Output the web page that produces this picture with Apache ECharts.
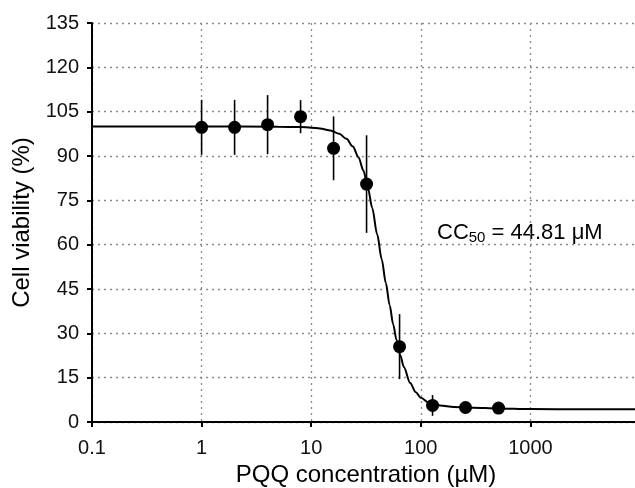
<!DOCTYPE html>
<html>
<head>
<meta charset="utf-8">
<script src="https://cdn.jsdelivr.net/npm/echarts@6/dist/echarts.min.js"></script>
<style>html,body{margin:0;padding:0;background:#fff}#c{width:635px;height:488px}</style>
</head>
<body>
<div id="c"></div>
<script>
// Measured data (mean ± error)
const concentrations = [1, 2, 4, 8, 16, 32, 64, 128, 256, 512];
const viability = [99.7, 99.7, 100.6, 103.3, 92.6, 80.5, 25.5, 5.6, 4.9, 4.7];
const errors = [9.3, 9.3, 10.0, 5.6, 10.8, 16.5, 11.0, 3.5, 0.8, 0.6];

// Fitted curve
const fitX = [0.1, 1, 5, 8, 10, 12, 15, 18, 21, 24, 27, 30, 33, 36, 40, 44, 48, 52, 56, 60, 65, 70, 80, 90, 100, 120, 150, 200, 300, 500, 1000, 3000, 10000];
const fitY = [100, 100, 99.9, 99.8, 99.6, 99.3, 98.6, 97.5, 95.8, 93.2, 89.6, 85.0, 79.0, 72.5, 63.5, 55.0, 47.0, 39.5, 33.0, 27.8, 22.6, 18.6, 13.2, 10.1, 8.2, 6.4, 5.6, 5.1, 4.8, 4.6, 4.4, 4.3, 4.3];

const xTickLabels = ['0.1', '1', '10', '100', '1000'];
const yMin = 0, yMax = 135, yInterval = 15;
const annotation = 'CC{sub|50} = 44.81 μM';

const FONT = '"Liberation Sans", Arial, sans-serif';

const points = concentrations.map((c, i) => [c, viability[i]]);
const bars = concentrations.map((c, i) => [c, viability[i] - errors[i], viability[i] + errors[i]]);
const fit = fitX.map((x, i) => [x, fitY[i]]);

const chart = echarts.init(document.getElementById('c'), null, {renderer: 'canvas'});
chart.setOption({
  animation: false,
  backgroundColor: '#fff',
  grid: {left: 92, top: 23, width: 548, height: 399, containLabel: false, outerBoundsMode: 'none'},
  xAxis: {
    type: 'log', logBase: 10, min: 0.1, max: 10000,
    name: 'PQQ concentration (µM)', nameLocation: 'middle', nameGap: 38,
    nameTextStyle: {fontFamily: FONT, fontSize: 24, color: '#000'},
    axisLine: {show: true, lineStyle: {color: '#000', width: 2}},
    axisTick: {show: true, length: 5, lineStyle: {color: '#000', width: 2}},
    minorTick: {show: false},
    axisLabel: {
      margin: 16, fontFamily: FONT, fontSize: 20, color: '#111',
      showMaxLabel: false,
      formatter: function (v) {
        const idx = Math.round(Math.log10(v)) + 1;
        return xTickLabels[idx] !== undefined ? xTickLabels[idx] : '';
      }
    },
    splitLine: {show: true, lineStyle: {color: '#8a8a8a', width: 1.3, type: [2, 4]}}
  },
  yAxis: {
    type: 'value', min: yMin, max: yMax, interval: yInterval,
    name: 'Cell viability (%)', nameLocation: 'middle', nameGap: 57,
    nameTextStyle: {fontFamily: FONT, fontSize: 24, color: '#000'},
    axisLine: {show: true, lineStyle: {color: '#000', width: 2}},
    axisTick: {show: true, length: 5, lineStyle: {color: '#000', width: 2}},
    axisLabel: {margin: 13, fontFamily: FONT, fontSize: 20, color: '#111'},
    splitLine: {show: true, lineStyle: {color: '#8a8a8a', width: 1.3, type: [2, 4]}}
  },
  series: [
    {
      type: 'line', data: fit, showSymbol: false, smooth: 0.3, smoothMonotone: 'x',
      lineStyle: {color: '#000', width: 2}, z: 3, silent: true
    },
    {
      type: 'custom', data: bars, z: 4, silent: true,
      renderItem: function (params, api) {
        const a = api.coord([api.value(0), api.value(1)]);
        const b = api.coord([api.value(0), api.value(2)]);
        return {type: 'line', shape: {x1: a[0], y1: a[1], x2: b[0], y2: b[1]},
          style: {stroke: '#000', lineWidth: 1.6}};
      },
      encode: {x: 0, y: [1, 2]}
    },
    {
      type: 'scatter', data: points, symbol: 'circle', symbolSize: 13,
      itemStyle: {color: '#000', opacity: 1}, z: 5, silent: true
    }
  ],
  graphic: [{
    type: 'text', left: 437, top: 222,
    style: {
      text: annotation, fontFamily: FONT, fontSize: 22, fill: '#000',
      rich: {sub: {fontFamily: FONT, fontSize: 15, fill: '#000', verticalAlign: 'bottom', padding: [9, 0, 0, 0]}}
    }
  }]
});
</script>
</body>
</html>
